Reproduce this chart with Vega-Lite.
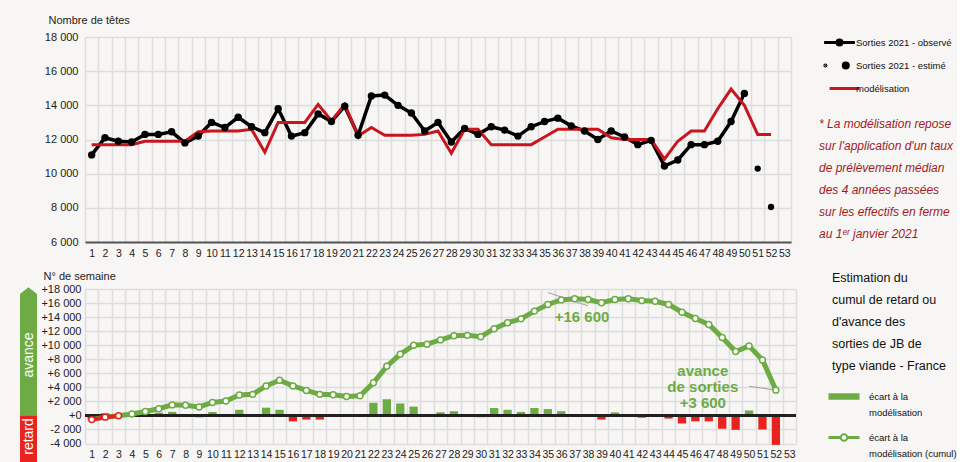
{
  "$schema": "https://vega.github.io/schema/vega-lite/v6.json",
  "background": "#f7f6f4",
  "padding": {"left": 20, "top": 14, "right": 0, "bottom": 0},
  "config": {
    "font": "'Liberation Sans', Arial, sans-serif",
    "view": {"stroke": null},
    "axis": {"labelColor": "#222", "titleColor": "#222", "gridColor": "#dddddd", "gridWidth": 1.5, "ticks": false, "labelOverlap": false},
    "style": {"guide-title": {"lineBreak": "|"}, "guide-label": {"lineHeight": 16}}
  },
  "resolve": {
    "scale": {"shape": "independent", "fill": "independent", "stroke": "independent", "color": "independent"},
    "legend": {"shape": "independent", "fill": "independent", "stroke": "independent", "color": "independent"}
  },
  "datasets": {
    "hebdo": [
      {"semaine": 1, "observe": 11100, "modele": 11700, "ecart": -600, "cumul": -600},
      {"semaine": 2, "observe": 12100, "modele": 11700, "ecart": 350, "cumul": -250},
      {"semaine": 3, "observe": 11900, "modele": 11700, "ecart": 200, "cumul": -50},
      {"semaine": 4, "observe": 11850, "modele": 11700, "ecart": 180, "cumul": 200},
      {"semaine": 5, "observe": 12300, "modele": 11900, "ecart": 380, "cumul": 550},
      {"semaine": 6, "observe": 12300, "modele": 11900, "ecart": 400, "cumul": 950},
      {"semaine": 7, "observe": 12450, "modele": 11900, "ecart": 500, "cumul": 1500},
      {"semaine": 8, "observe": 11800, "modele": 11900, "ecart": -120, "cumul": 1450},
      {"semaine": 9, "observe": 12200, "modele": 12450, "ecart": -260, "cumul": 1200},
      {"semaine": 10, "observe": 13000, "modele": 12500, "ecart": 500, "cumul": 1850},
      {"semaine": 11, "observe": 12700, "modele": 12500, "ecart": 200, "cumul": 2050},
      {"semaine": 12, "observe": 13300, "modele": 12500, "ecart": 800, "cumul": 2900},
      {"semaine": 13, "observe": 12750, "modele": 12600, "ecart": 120, "cumul": 3000},
      {"semaine": 14, "observe": 12400, "modele": 11250, "ecart": 1100, "cumul": 4200},
      {"semaine": 15, "observe": 13800, "modele": 13000, "ecart": 800, "cumul": 5000},
      {"semaine": 16, "observe": 12200, "modele": 13000, "ecart": -850, "cumul": 4200},
      {"semaine": 17, "observe": 12400, "modele": 13000, "ecart": -600, "cumul": 3550},
      {"semaine": 18, "observe": 13500, "modele": 14050, "ecart": -600, "cumul": 3000},
      {"semaine": 19, "observe": 13050, "modele": 13100, "ecart": -150, "cumul": 2950},
      {"semaine": 20, "observe": 13950, "modele": 14050, "ecart": -150, "cumul": 2700},
      {"semaine": 21, "observe": 12250, "modele": 12200, "ecart": 50, "cumul": 2800},
      {"semaine": 22, "observe": 14550, "modele": 12700, "ecart": 1800, "cumul": 4650},
      {"semaine": 23, "observe": 14600, "modele": 12250, "ecart": 2300, "cumul": 7000},
      {"semaine": 24, "observe": 14000, "modele": 12250, "ecart": 1700, "cumul": 8700},
      {"semaine": 25, "observe": 13550, "modele": 12250, "ecart": 1250, "cumul": 10000},
      {"semaine": 26, "observe": 12500, "modele": 12300, "ecart": 120, "cumul": 10150},
      {"semaine": 27, "observe": 13000, "modele": 12500, "ecart": 450, "cumul": 10750},
      {"semaine": 28, "observe": 11850, "modele": 11200, "ecart": 600, "cumul": 11350},
      {"semaine": 29, "observe": 12650, "modele": 12600, "ecart": 50, "cumul": 11400},
      {"semaine": 30, "observe": 12300, "modele": 12600, "ecart": -250, "cumul": 11200},
      {"semaine": 31, "observe": 12750, "modele": 11700, "ecart": 1050, "cumul": 12350},
      {"semaine": 32, "observe": 12550, "modele": 11700, "ecart": 800, "cumul": 13200},
      {"semaine": 33, "observe": 12200, "modele": 11700, "ecart": 500, "cumul": 13750},
      {"semaine": 34, "observe": 12750, "modele": 11700, "ecart": 1050, "cumul": 14850},
      {"semaine": 35, "observe": 13050, "modele": 12150, "ecart": 900, "cumul": 15800},
      {"semaine": 36, "observe": 13250, "modele": 12600, "ecart": 600, "cumul": 16450},
      {"semaine": 37, "observe": 12800, "modele": 12600, "ecart": 150, "cumul": 16600},
      {"semaine": 38, "observe": 12500, "modele": 12600, "ecart": -120, "cumul": 16500},
      {"semaine": 39, "observe": 12000, "modele": 12600, "ecart": -600, "cumul": 16050},
      {"semaine": 40, "observe": 12500, "modele": 12100, "ecart": 430, "cumul": 16500},
      {"semaine": 41, "observe": 12150, "modele": 12000, "ecart": 100, "cumul": 16600},
      {"semaine": 42, "observe": 11700, "modele": 12000, "ecart": -320, "cumul": 16350},
      {"semaine": 43, "observe": 11950, "modele": 12000, "ecart": -150, "cumul": 16250},
      {"semaine": 44, "observe": 10450, "modele": 10850, "ecart": -450, "cumul": 15800},
      {"semaine": 45, "observe": 10800, "modele": 11900, "ecart": -1150, "cumul": 14700},
      {"semaine": 46, "observe": 11700, "modele": 12500, "ecart": -850, "cumul": 13800},
      {"semaine": 47, "observe": 11700, "modele": 12500, "ecart": -850, "cumul": 12950},
      {"semaine": 48, "observe": 11900, "modele": 13800, "ecart": -1900, "cumul": 11100},
      {"semaine": 49, "observe": 13050, "modele": 14950, "ecart": -2050, "cumul": 9100},
      {"semaine": 50, "observe": 14700, "modele": 14000, "ecart": 700, "cumul": 9900},
      {"semaine": 51, "observe": null, "estime": 10300, "modele": 12300, "ecart": -2000, "cumul": 7900},
      {"semaine": 52, "observe": null, "estime": 8050, "modele": 12300, "ecart": -4200, "cumul": 3600}
    ]
  },
  "columns": 2,
  "spacing": {"row": 11, "column": 3},
  "concat": [
    {
      "width": 17,
      "height": 205,
      "data": {"values": [{"vide": ""}]},
      "mark": {"type": "text"},
      "encoding": {"text": {"field": "vide"}}
    },
    {
      "width": 706,
      "height": 205,
      "data": {"name": "hebdo"},
      "encoding": {
        "x": {"field": "semaine", "type": "ordinal",
          "scale": {"type": "band", "domain": [1,2,3,4,5,6,7,8,9,10,11,12,13,14,15,16,17,18,19,20,21,22,23,24,25,26,27,28,29,30,31,32,33,34,35,36,37,38,39,40,41,42,43,44,45,46,47,48,49,50,51,52,53], "paddingInner": 0, "paddingOuter": 0},
          "axis": {"title": null, "labelAngle": 0, "grid": true, "tickBand": "extent", "domain": true, "domainColor": "#555555", "domainWidth": 2, "labelPadding": 6, "labelFontSize": 10.5, "labelOverlap": false}}
      },
      "layer": [
        {
          "mark": {"type": "line", "color": "#000000", "strokeWidth": 3.5},
          "encoding": {
            "y": {"field": "observe", "type": "quantitative",
              "scale": {"domain": [6000, 18000], "nice": false, "zero": false},
              "axis": {"title": "Nombre de têtes", "titleAngle": 0, "titleAlign": "left", "titleBaseline": "middle", "titleX": -37, "titleY": -17, "titleFontSize": 11, "titleFontWeight": "normal", "grid": true, "domain": false, "labelPadding": 7, "labelFontSize": 11, "labelOverlap": false, "tickCount": 7, "values": [6000, 8000, 10000, 12000, 14000, 16000, 18000], "labelExpr": "replace(format(datum.value, ','), ',', ' ')"}}
          }
        },
        {
          "mark": {"type": "line", "color": "#c8161e", "strokeWidth": 3},
          "encoding": {
            "y": {"field": "modele", "type": "quantitative"}
          }
        },
        {
          "mark": {"type": "point", "filled": true, "size": 55, "color": "#000000", "opacity": 1},
          "encoding": {
            "y": {"field": "observe", "type": "quantitative"}
          }
        },
        {
          "mark": {"type": "point", "filled": true, "size": 40, "color": "#000000", "opacity": 1},
          "encoding": {
            "y": {"field": "estime", "type": "quantitative"}
          }
        },
        {
          "data": {"values": [{"serie": "Sorties 2021 - observé"}, {"serie": "Sorties 2021 - estimé"}, {"serie": "modélisation"}]},
          "transform": [{"filter": "false"}],
          "mark": {"type": "point", "filled": true, "opacity": 1, "size": 484, "strokeWidth": 3},
          "encoding": {
            "x": null,
            "shape": {"field": "serie", "type": "nominal",
              "scale": {"domain": ["Sorties 2021 - observé", "Sorties 2021 - estimé", "modélisation"], "range": ["M-1.4,0L1.4,0M-0.23,0A0.23,0.23,0,1,1,0.23,0A0.23,0.23,0,1,1,-0.23,0Z", "M-1.33,0A0.05,0.05,0,1,1,-1.23,0A0.05,0.05,0,1,1,-1.33,0Z M0.34,0A0.23,0.23,0,1,1,0.8,0A0.23,0.23,0,1,1,0.34,0Z", "M-0.9,0L1.8,0"]},
              "legend": {"title": "* La modélisation repose|sur l'application d'un taux|de prélèvement médian|des 4 années passées|sur les effectifs en ferme|au 1ᵉʳ janvier 2021", "orient": "none", "legendX": 734, "legendY": -7, "titleOrient": "bottom", "titleAnchor": "start", "titleAlign": "left", "titleFontStyle": "italic", "titleFontWeight": "normal", "titleFontSize": 12, "titleColor": "#a11b1f", "titleLineHeight": 22, "titlePadding": 24, "titleLimit": 400, "labelFontSize": 9.5, "labelColor": "#111111", "labelLimit": 300, "symbolSize": 484, "symbolStrokeWidth": 3, "symbolOffset": 8, "labelOffset": 4, "rowPadding": 1, "padding": 0}},
            "fill": {"field": "serie", "type": "nominal",
              "scale": {"domain": ["Sorties 2021 - observé", "Sorties 2021 - estimé", "modélisation"], "range": ["#000000", "#000000", "#c8161e"]},
              "legend": {"title": "* La modélisation repose|sur l'application d'un taux|de prélèvement médian|des 4 années passées|sur les effectifs en ferme|au 1ᵉʳ janvier 2021", "orient": "none", "legendX": 734, "legendY": -7, "titleOrient": "bottom", "titleAnchor": "start", "titleAlign": "left", "titleFontStyle": "italic", "titleFontWeight": "normal", "titleFontSize": 12, "titleColor": "#a11b1f", "titleLineHeight": 22, "titlePadding": 24, "titleLimit": 400, "labelFontSize": 9.5, "labelColor": "#111111", "labelLimit": 300, "symbolSize": 484, "symbolStrokeWidth": 3, "symbolOffset": 8, "labelOffset": 4, "rowPadding": 1, "padding": 0}},
            "stroke": {"field": "serie", "type": "nominal",
              "scale": {"domain": ["Sorties 2021 - observé", "Sorties 2021 - estimé", "modélisation"], "range": ["#000000", "#000000", "#c8161e"]},
              "legend": {"title": "* La modélisation repose|sur l'application d'un taux|de prélèvement médian|des 4 années passées|sur les effectifs en ferme|au 1ᵉʳ janvier 2021", "orient": "none", "legendX": 734, "legendY": -7, "titleOrient": "bottom", "titleAnchor": "start", "titleAlign": "left", "titleFontStyle": "italic", "titleFontWeight": "normal", "titleFontSize": 12, "titleColor": "#a11b1f", "titleLineHeight": 22, "titlePadding": 24, "titleLimit": 400, "labelFontSize": 9.5, "labelColor": "#111111", "labelLimit": 300, "symbolSize": 484, "symbolStrokeWidth": 3, "symbolOffset": 8, "labelOffset": 4, "rowPadding": 1, "padding": 0}}
          }
        }
      ]
    },
    {
      "width": 17,
      "height": 154.5,
      "data": {"values": [{"zone": "avance", "debut": 0, "fin": 17300, "milieu": 8600}, {"zone": "retard", "debut": 0, "fin": -7000, "milieu": -3000}]},
      "layer": [
        {
          "mark": {"type": "rect", "clip": false},
          "encoding": {
            "y": {"field": "debut", "type": "quantitative", "scale": {"domain": [-4000, 18000], "nice": false}, "axis": null},
            "y2": {"field": "fin"},
            "color": {"field": "zone", "type": "nominal", "scale": {"domain": ["avance", "retard"], "range": ["#6dab45", "#e8231f"]}, "legend": null}
          }
        },
        {
          "mark": {"type": "point", "shape": "M-1,0.05L0,-0.75L1,0.05Z", "size": 289, "filled": true, "opacity": 1, "color": "#6dab45"},
          "encoding": {"y": {"datum": 17300}}
        },
        {
          "mark": {"type": "text", "angle": 270, "color": "#ffffff", "fontSize": 14, "baseline": "middle", "align": "center"},
          "encoding": {
            "y": {"field": "milieu", "type": "quantitative"},
            "text": {"field": "zone"}
          }
        }
      ]
    },
    {
      "width": 711,
      "height": 154.5,
      "data": {"name": "hebdo"},
      "encoding": {
        "x": {"field": "semaine", "type": "ordinal",
          "scale": {"type": "band", "domain": [1,2,3,4,5,6,7,8,9,10,11,12,13,14,15,16,17,18,19,20,21,22,23,24,25,26,27,28,29,30,31,32,33,34,35,36,37,38,39,40,41,42,43,44,45,46,47,48,49,50,51,52,53], "paddingInner": 0, "paddingOuter": 0},
          "axis": {"title": null, "labelAngle": 0, "grid": true, "tickBand": "extent", "domain": false, "labelPadding": 6, "labelFontSize": 10.5, "labelOverlap": false}}
      },
      "layer": [
        {
          "mark": {"type": "bar", "width": {"band": 0.62}},
          "encoding": {
            "y": {"field": "ecart", "type": "quantitative",
              "scale": {"domain": [-4000, 18000], "nice": false, "zero": false},
              "axis": {"title": "N° de semaine", "titleAngle": 0, "titleAlign": "left", "titleBaseline": "middle", "titleX": -42, "titleY": -13, "titleFontSize": 11, "titleFontWeight": "normal", "grid": true, "domain": false, "labelPadding": 4, "labelFontSize": 11, "labelOverlap": false, "tickCount": 12, "values": [-4000, -2000, 0, 2000, 4000, 6000, 8000, 10000, 12000, 14000, 16000, 18000], "labelExpr": "datum.value >= 0 ? '+' + replace(format(datum.value, ','), ',', ' ') : '-' + replace(format(-datum.value, ','), ',', ' ')"}},
            "color": {"condition": {"test": "datum.ecart < 0", "value": "#e8231f"}, "value": "#6dab45"}
          }
        },
        {
          "mark": {"type": "rule", "color": "#222222", "strokeWidth": 1.5},
          "encoding": {"x": null, "y": {"datum": 0}}
        },
        {
          "data": {"values": [{"sx": 35, "sx2": 38, "vy": 17500, "vy2": 15600}, {"sx": 50, "sx2": 52, "vy": 4150, "vy2": 3600}]},
          "mark": {"type": "rule", "color": "#a0a0a0", "strokeWidth": 1},
          "encoding": {
            "x": {"field": "sx", "type": "ordinal"},
            "x2": {"field": "sx2"},
            "y": {"field": "vy", "type": "quantitative"},
            "y2": {"field": "vy2"}
          }
        },
        {
          "mark": {"type": "line", "color": "#6dab45", "strokeWidth": 5},
          "encoding": {
            "y": {"field": "cumul", "type": "quantitative"}
          }
        },
        {
          "transform": [{"filter": "datum.semaine <= 3"}],
          "mark": {"type": "line", "color": "#e8231f", "strokeWidth": 4},
          "encoding": {
            "y": {"field": "cumul", "type": "quantitative"}
          }
        },
        {
          "mark": {"type": "point", "filled": false, "fill": "#ffffff", "size": 35, "strokeWidth": 1.5, "opacity": 1},
          "encoding": {
            "y": {"field": "cumul", "type": "quantitative"},
            "stroke": {"condition": {"test": "datum.cumul < 0", "value": "#e8231f"}, "value": "#6dab45"}
          }
        },
        {
          "data": {"values": [{"sem": 38, "v": 14000, "t": "+16 600"}, {"sem": 47, "v": 6300, "t": "avance|de sorties|+3 600"}]},
          "mark": {"type": "text", "fontSize": 15, "fontWeight": "bold", "font": "'Liberation Sans', Arial, sans-serif", "color": "#6dab45", "lineBreak": "|", "lineHeight": 16, "baseline": "middle", "align": "center", "dx": -6},
          "encoding": {
            "x": {"field": "sem", "type": "ordinal"},
            "y": {"field": "v", "type": "quantitative"},
            "text": {"field": "t"}
          }
        },
        {
          "data": {"values": [{"serie": "écart à la modélisation"}, {"serie": "écart à la modélisation (cumul)"}]},
          "transform": [{"filter": "false"}],
          "mark": {"type": "point", "filled": true, "opacity": 1, "size": 484, "strokeWidth": 2},
          "encoding": {
            "x": null,
            "shape": {"field": "serie", "type": "nominal",
              "scale": {"domain": ["écart à la modélisation", "écart à la modélisation (cumul)"], "range": ["M-1.32,-0.2H1.32V0.2H-1.32Z", "M-1.32,-0.05H-0.3V0.05H-1.32Z M0.3,-0.05H1.32V0.05H0.3Z M-0.3,0A0.3,0.3,0,1,1,0.3,0A0.3,0.3,0,1,1,-0.3,0Z"]},
              "legend": {"title": "Estimation du|cumul de retard ou|d'avance des|sorties de JB de|type viande  - France", "orient": "none", "legendX": 747, "legendY": -17, "titleFontSize": 12.5, "titleFontWeight": "normal", "titleColor": "#111111", "titleLineHeight": 22, "titlePadding": 12, "titleLimit": 400, "labelExpr": "datum.label == 'écart à la modélisation' ? ['écart à la', 'modélisation'] : ['écart à la', 'modélisation (cumul)']", "labelFontSize": 9.5, "labelColor": "#111111", "labelLimit": 300, "labelOffset": 13, "symbolSize": 484, "symbolStrokeWidth": 2, "rowPadding": 8, "padding": 0}},
            "fill": {"field": "serie", "type": "nominal",
              "scale": {"domain": ["écart à la modélisation", "écart à la modélisation (cumul)"], "range": ["#6dab45", "#ffffff"]},
              "legend": {"title": "Estimation du|cumul de retard ou|d'avance des|sorties de JB de|type viande  - France", "orient": "none", "legendX": 747, "legendY": -17, "titleFontSize": 12.5, "titleFontWeight": "normal", "titleColor": "#111111", "titleLineHeight": 22, "titlePadding": 12, "titleLimit": 400, "labelExpr": "datum.label == 'écart à la modélisation' ? ['écart à la', 'modélisation'] : ['écart à la', 'modélisation (cumul)']", "labelFontSize": 9.5, "labelColor": "#111111", "labelLimit": 300, "labelOffset": 13, "symbolSize": 484, "symbolStrokeWidth": 2, "rowPadding": 8, "padding": 0}},
            "stroke": {"field": "serie", "type": "nominal",
              "scale": {"domain": ["écart à la modélisation", "écart à la modélisation (cumul)"], "range": ["#6dab45", "#6dab45"]},
              "legend": {"title": "Estimation du|cumul de retard ou|d'avance des|sorties de JB de|type viande  - France", "orient": "none", "legendX": 747, "legendY": -17, "titleFontSize": 12.5, "titleFontWeight": "normal", "titleColor": "#111111", "titleLineHeight": 22, "titlePadding": 12, "titleLimit": 400, "labelExpr": "datum.label == 'écart à la modélisation' ? ['écart à la', 'modélisation'] : ['écart à la', 'modélisation (cumul)']", "labelFontSize": 9.5, "labelColor": "#111111", "labelLimit": 300, "labelOffset": 13, "symbolSize": 484, "symbolStrokeWidth": 2, "rowPadding": 8, "padding": 0}}
          }
        }
      ]
    }
  ]
}
